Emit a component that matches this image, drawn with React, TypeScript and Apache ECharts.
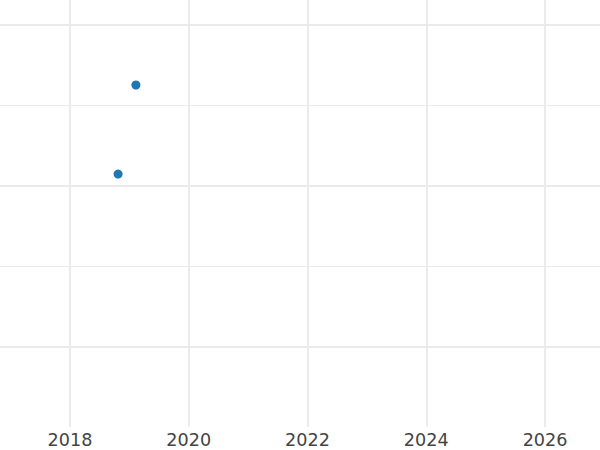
import React, { useEffect, useRef } from "react";
import * as echarts from "echarts";

const pointYears: number[] = [2018.81, 2019.11];
const pointValues: number[] = [1.071, 1.624];
const majorLines: number[] = [0, 1, 2];
const xExtent: number[] = [2016.821, 2026.926];
const yExtent: number[] = [-0.5, 2.152];

export default function App() {
  const ref = useRef<HTMLDivElement>(null);
  useEffect(() => {
    document.body.style.margin = "0";
    const chart = echarts.init(ref.current!, null, { renderer: "svg" });
    const gridColor = "#ebebeb";
    chart.setOption({
      animation: false,
      backgroundColor: "#ffffff",
      grid: { left: 0, right: 0, top: 0, bottom: 23, containLabel: false },
      xAxis: {
        type: "value",
        min: xExtent[0],
        max: xExtent[1],
        splitNumber: 5,
        axisLine: { show: false },
        axisTick: { show: false },
        axisLabel: {
          showMinLabel: false,
          showMaxLabel: false,
          margin: 4,
          color: "#444444",
          fontFamily: "DejaVu Sans",
          fontSize: 17.6,
          formatter: (v: number) => String(Math.round(v)),
        },
        splitLine: {
          show: true,
          showMinLine: false,
          showMaxLine: false,
          lineStyle: { color: gridColor, width: 2 },
        },
      },
      yAxis: {
        type: "value",
        min: yExtent[0],
        max: yExtent[1],
        splitNumber: 5,
        axisLine: { show: false },
        axisTick: { show: false },
        axisLabel: { show: false },
        splitLine: {
          show: true,
          showMinLine: false,
          showMaxLine: false,
          lineStyle: { color: gridColor, width: 1 },
        },
      },
      series: [
        {
          type: "scatter",
          data: pointYears.map((x, i) => [x, pointValues[i]]),
          symbolSize: 9,
          itemStyle: { color: "#1f77b4", opacity: 1 },
          z: 5,
          markLine: {
            silent: true,
            symbol: ["none", "none"],
            label: { show: false },
            lineStyle: { color: gridColor, width: 2, type: "solid" },
            data: majorLines.map((v) => ({ yAxis: v })),
            z: 1,
          },
        },
      ],
    });
    return () => chart.dispose();
  }, []);
  return <div ref={ref} style={{ width: 600, height: 450 }} />;
}
